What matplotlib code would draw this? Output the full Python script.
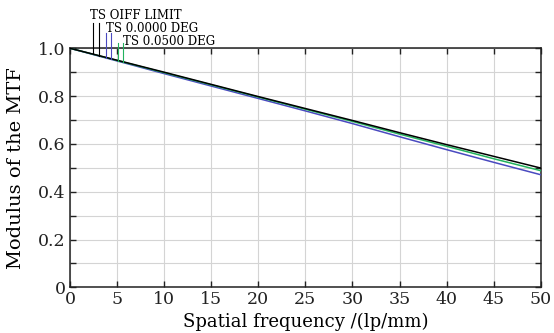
import numpy as np
import matplotlib
matplotlib.use("Agg")
import matplotlib.pyplot as plt
from matplotlib.ticker import MultipleLocator, FuncFormatter

# MTF data
freq = [0, 5, 10, 15, 20, 25, 30, 35, 40, 45, 50]
mtf_limit = [1.0, 0.950, 0.900, 0.849, 0.798, 0.748, 0.698, 0.647, 0.597, 0.548, 0.499]
mtf_deg0 = [1.0, 0.947, 0.894, 0.842, 0.790, 0.738, 0.685, 0.630, 0.576, 0.523, 0.471]
mtf_deg05 = [1.0, 0.949, 0.898, 0.847, 0.796, 0.745, 0.694, 0.641, 0.590, 0.538, 0.488]

labels = ["TS OIFF LIMIT", "TS 0.0000 DEG", "TS 0.0500 DEG"]
colors = ["#000000", "#4a4ac0", "#22b35e"]

plt.rcParams["font.family"] = ["DejaVu Serif"]

fig = plt.figure(figsize=(5.54, 3.33), dpi=100)
ax = fig.add_axes([0.1264, 0.1372, 0.8496, 0.7178])

series = [mtf_limit, mtf_deg0, mtf_deg05]
# draw blue first, then green, then black on top
for idx in [1, 2, 0]:
    ax.plot(freq, series[idx], color=colors[idx], lw=1.1, zorder=3)

# Zemax-style legend: pairs of vertical leader lines down to the curves
leader_x = [(2.47, 3.11), (3.79, 4.36), (5.07, 5.6)]
leader_top = [1.107, 1.063, 1.023]
text_pos = [(2.12, 1.121), (3.82, 1.069), (5.6, 1.014)]
for i in range(3):
    for xv in leader_x[i]:
        yb = np.interp(xv, freq, series[i])
        ax.plot([xv, xv], [yb, leader_top[i]], color=colors[i], lw=0.8,
                clip_on=False, zorder=4)
    ax.text(text_pos[i][0], text_pos[i][1], labels[i], fontsize=8.5,
            ha="left", va="baseline")

ax.set_xlim(0, 50)
ax.set_ylim(0, 1.0)
ax.xaxis.set_major_locator(MultipleLocator(5))
ax.yaxis.set_major_locator(MultipleLocator(0.1))


def yfmt(v, pos):
    k = int(round(v * 10))
    if k == 0:
        return "0"
    if k % 2 == 0:
        return "%.1f" % v
    return ""


ax.yaxis.set_major_formatter(FuncFormatter(yfmt))
ax.grid(True, color="#d4d4d4", lw=0.8)
ax.set_axisbelow(True)
ax.tick_params(direction="in", length=4, width=1, top=True, right=True,
               labelsize=12.5, pad=3, colors="#222222")
for s in ax.spines.values():
    s.set_linewidth(1.1)
    s.set_color("#222222")

ax.set_xlabel("Spatial frequency /(lp/mm)", fontsize=13)
ax.set_ylabel("Modulus of the MTF", fontsize=14)
ax.xaxis.set_label_coords(0.5, -0.145)
ax.yaxis.set_label_coords(-0.115, 0.5)
ax.xaxis.label.set_va("center")
ax.yaxis.label.set_va("center")

fig.savefig("out.png", dpi=100)
